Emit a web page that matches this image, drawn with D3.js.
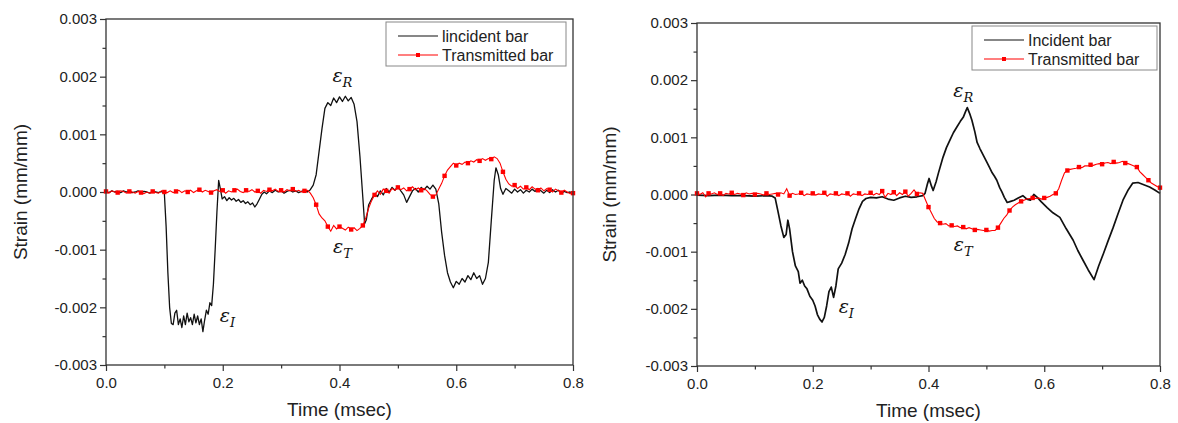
<!DOCTYPE html>
<html>
<head>
<meta charset="utf-8">
<script src="https://cdn.jsdelivr.net/npm/d3@7"></script>
<style>
  body { margin: 0; background: #fff; }
  svg { display: block; font-family: "Liberation Sans", Arial, sans-serif; }
  .tick text { fill: #222; }
  .eps { font-family: "DejaVu Serif", "Liberation Serif", serif; font-style: italic; fill: #111; }
</style>
</head>
<body>
<div id="chart"></div>
<script>
/* strain values are in 10^-3 mm/mm, time in msec */

var xTicks = [0.0, 0.2, 0.4, 0.6, 0.8]
var xMinor = [0.1, 0.3, 0.5, 0.7]
var yTicks = [-0.003, -0.002, -0.001, 0.000, 0.001, 0.002, 0.003]
var yMinor = [-0.0025, -0.0015, -0.0005, 0.0005, 0.0015, 0.0025]

var legendLeft = ["lincident bar", "Transmitted bar"]
var legendRight = ["Incident bar", "Transmitted bar"]

var leftIncident = [[0,0.01],[0.005,-0.01],[0.01,0.02],[0.015,0.0],[0.02,0.01],[0.025,-0.01],[0.03,0.02],[0.035,0.0],[0.04,0.01],[0.045,-0.01],[0.05,0.0],[0.055,0.02],[0.06,-0.01],[0.065,0.01],[0.07,0.0],[0.075,-0.02],[0.08,0.01],[0.085,0.0],[0.09,-0.01],[0.095,0.01],[0.1,-0.03],
  [0.103,-0.6],[0.106,-1.4],[0.109,-2.0],[0.112,-2.28],[0.115,-2.3],[0.118,-2.1],[0.121,-2.05],[0.124,-2.3],[0.127,-2.2],[0.130,-2.35],[0.133,-2.15],[0.136,-2.3],[0.139,-2.1],[0.142,-2.25],[0.145,-2.18],[0.148,-2.3],[0.151,-2.12],[0.154,-2.27],[0.157,-2.15],[0.160,-2.3],[0.163,-2.2],[0.166,-2.42],[0.169,-2.22],[0.172,-2.05],[0.175,-2.12],[0.178,-1.92],[0.181,-1.97],[0.184,-1.6],[0.187,-1.0],[0.190,-0.35],[0.193,0.2],[0.196,0.05],[0.199,-0.12],
  [0.203,-0.08],[0.207,-0.15],[0.211,-0.1],[0.215,-0.14],[0.219,-0.11],[0.223,-0.16],[0.227,-0.13],[0.231,-0.18],[0.235,-0.15],[0.239,-0.2],[0.243,-0.17],[0.247,-0.22],[0.251,-0.19],[0.255,-0.26],[0.259,-0.2],[0.263,-0.12],[0.267,-0.04],[0.271,0.0],[0.275,-0.03],[0.28,0.02],[0.285,-0.01],[0.29,0.03],[0.295,0.0],[0.3,0.02],[0.305,-0.02],[0.31,0.01],[0.315,0.03],[0.32,0.0],[0.325,0.02],[0.33,-0.01],[0.335,0.01],[0.34,0.03],[0.345,0.0],
  [0.35,0.04],[0.355,0.12],[0.36,0.3],[0.365,0.7],[0.37,1.1],[0.375,1.45],[0.38,1.55],[0.385,1.5],[0.39,1.63],[0.395,1.55],[0.4,1.65],[0.405,1.57],[0.41,1.66],[0.415,1.58],[0.42,1.64],[0.425,1.52],[0.43,1.22],[0.435,0.62],[0.44,-0.1],[0.443,-0.55],[0.446,-0.48],[0.45,-0.22],[0.455,-0.12],[0.46,-0.04],
  [0.465,-0.08],[0.47,0.02],[0.475,-0.05],[0.48,0.06],[0.485,0.0],[0.49,0.08],[0.495,0.03],[0.5,0.1],[0.505,0.02],[0.51,-0.05],[0.515,-0.18],[0.52,-0.08],[0.525,0.02],[0.53,0.06],[0.535,0.0],[0.54,0.08],[0.545,0.04],[0.55,0.1],[0.555,0.05],[0.56,0.12],[0.565,0.05],
  [0.57,-0.2],[0.575,-0.7],[0.58,-1.1],[0.585,-1.4],[0.59,-1.56],[0.595,-1.66],[0.6,-1.55],[0.605,-1.6],[0.61,-1.5],[0.615,-1.56],[0.62,-1.45],[0.625,-1.52],[0.63,-1.4],[0.635,-1.5],[0.64,-1.45],[0.645,-1.6],[0.65,-1.5],[0.655,-1.22],[0.66,-0.5],[0.665,0.2],[0.668,0.42],[0.672,0.3],[0.676,0.06],
  [0.68,-0.04],[0.685,0.06],[0.69,0.02],[0.695,-0.02],[0.7,0.05],[0.705,0.0],[0.71,0.04],[0.715,-0.02],[0.72,0.03],[0.725,0.0],[0.73,0.05],[0.735,0.01],[0.74,0.06],[0.745,0.02],[0.75,-0.02],[0.755,0.03],[0.76,-0.01],[0.765,0.04],[0.77,0.0],[0.775,0.03],[0.78,-0.02],[0.785,0.01],[0.79,-0.01],[0.795,0.0],[0.8,-0.02]]

var leftTransmitted = [[0,0.01],[0.005,-0.02],[0.01,0.02],[0.015,0.0],[0.02,-0.01],[0.025,0.02],[0.03,0.01],[0.035,-0.02],[0.04,0.01],[0.045,0.0],[0.05,-0.02],[0.055,0.01],[0.06,-0.01],[0.065,-0.03],[0.07,0.0],[0.075,-0.02],[0.08,0.01],[0.085,-0.01],[0.09,-0.02],[0.095,0.02],
  [0.1,0.0],[0.105,-0.01],[0.11,0.02],[0.115,-0.01],[0.12,0.01],[0.125,0.03],[0.13,-0.01],[0.135,0.02],[0.14,0.0],[0.145,0.03],[0.15,-0.01],[0.155,0.02],[0.16,0.04],[0.165,0.0],[0.17,0.03],[0.175,0.01],[0.18,-0.01],[0.185,0.02],[0.19,0.04],[0.195,0.01],
  [0.2,0.03],[0.205,-0.02],[0.21,0.02],[0.215,0.0],[0.22,0.03],[0.225,0.05],[0.23,0.01],[0.235,-0.01],[0.24,0.03],[0.245,0.01],[0.25,0.04],[0.255,0.0],[0.26,0.02],[0.265,-0.02],[0.27,0.03],[0.275,0.01],[0.28,0.04],[0.285,0.02],[0.29,0.05],[0.295,0.01],
  [0.3,0.03],[0.305,0.0],[0.31,0.04],[0.315,0.02],[0.32,0.05],[0.325,0.01],[0.33,0.03],[0.335,0.0],[0.34,0.02],[0.345,0.03],[0.35,-0.02],[0.355,-0.1],[0.36,-0.22],[0.365,-0.38],[0.37,-0.45],[0.375,-0.5],[0.38,-0.6],[0.385,-0.68],[0.39,-0.58],[0.395,-0.64],
  [0.4,-0.6],[0.405,-0.63],[0.41,-0.66],[0.415,-0.61],[0.42,-0.65],[0.425,-0.62],[0.43,-0.67],[0.435,-0.63],[0.44,-0.58],[0.445,-0.45],[0.45,-0.28],[0.455,-0.15],[0.46,-0.05],[0.465,0.02],[0.47,-0.04],[0.475,0.05],[0.48,0.02],[0.485,-0.02],[0.49,0.06],[0.495,0.03],
  [0.5,0.08],[0.505,0.04],[0.51,0.07],[0.515,0.02],[0.52,0.05],[0.525,0.09],[0.53,0.04],[0.535,0.07],[0.54,0.03],[0.545,0.06],[0.55,0.02],[0.555,-0.04],[0.56,-0.08],[0.565,-0.05],[0.57,0.05],[0.575,0.15],[0.58,0.28],[0.585,0.38],[0.59,0.44],[0.595,0.5],
  [0.6,0.46],[0.605,0.5],[0.61,0.48],[0.615,0.52],[0.62,0.5],[0.625,0.54],[0.63,0.52],[0.635,0.56],[0.64,0.54],[0.645,0.58],[0.65,0.55],[0.655,0.58],[0.66,0.57],[0.665,0.61],[0.67,0.58],[0.675,0.5],[0.68,0.35],[0.685,0.22],[0.69,0.14],[0.695,0.1],
  [0.7,0.12],[0.705,0.06],[0.71,0.1],[0.715,0.05],[0.72,0.08],[0.725,0.04],[0.73,0.09],[0.735,0.05],[0.74,0.03],[0.745,0.07],[0.75,0.02],[0.755,0.06],[0.76,0.04],[0.765,0.0],[0.77,0.05],[0.775,0.02],[0.78,-0.01],[0.785,0.03],[0.79,0.0],[0.795,-0.03],[0.8,-0.02]]

var rightIncident = [[0,-0.01],[0.02,-0.02],[0.04,-0.01],[0.06,-0.02],[0.08,-0.02],[0.1,-0.03],[0.12,-0.02],[0.13,-0.03],[0.135,-0.06],[0.14,-0.3],[0.145,-0.55],[0.15,-0.75],[0.154,-0.7],[0.157,-0.45],[0.16,-0.6],[0.165,-1.0],[0.17,-1.25],[0.175,-1.35],[0.178,-1.55],[0.182,-1.5],
  [0.186,-1.6],[0.19,-1.65],[0.195,-1.78],[0.2,-1.85],[0.204,-1.95],[0.208,-2.1],[0.212,-2.18],[0.216,-2.23],[0.22,-2.15],[0.224,-1.95],[0.228,-1.7],[0.232,-1.62],[0.236,-1.8],[0.24,-1.6],[0.244,-1.3],[0.25,-1.2],[0.256,-1.05],[0.262,-0.85],[0.268,-0.6],[0.274,-0.42],
  [0.28,-0.25],[0.286,-0.12],[0.292,-0.07],[0.3,-0.05],[0.31,-0.06],[0.32,-0.04],[0.33,-0.08],[0.34,-0.1],[0.35,-0.06],[0.36,-0.03],[0.37,-0.05],[0.38,-0.04],[0.39,-0.02],[0.394,0.02],[0.398,0.18],[0.401,0.28],[0.405,0.15],[0.408,0.07],[0.413,0.22],[0.417,0.37],
  [0.425,0.65],[0.431,0.82],[0.437,0.95],[0.443,1.08],[0.449,1.18],[0.455,1.28],[0.46,1.35],[0.464,1.45],[0.467,1.52],[0.471,1.42],[0.475,1.3],[0.48,1.1],[0.484,0.91],[0.489,0.8],[0.495,0.68],[0.501,0.56],[0.506,0.46],[0.51,0.38],[0.514,0.32],[0.518,0.25],
  [0.523,0.12],[0.527,0.04],[0.531,-0.05],[0.536,-0.14],[0.542,-0.12],[0.548,-0.1],[0.555,-0.06],[0.563,-0.02],[0.57,-0.08],[0.576,-0.1],[0.582,0.0],[0.588,-0.05],[0.595,-0.13],[0.605,-0.23],[0.615,-0.32],[0.627,-0.4],[0.638,-0.6],[0.65,-0.8],[0.658,-0.98],[0.667,-1.15],
  [0.676,-1.32],[0.686,-1.49],[0.694,-1.25],[0.702,-1.04],[0.71,-0.82],[0.719,-0.58],[0.727,-0.35],[0.736,-0.1],[0.745,0.08],[0.753,0.2],[0.762,0.21],[0.772,0.17],[0.782,0.13],[0.791,0.08],[0.8,0.02]]

var rightTransmitted = [[0,0.02],[0.005,0.0],[0.01,0.03],[0.015,-0.04],[0.02,0.02],[0.025,0.01],[0.03,0.03],[0.035,0.0],[0.04,0.02],[0.045,-0.02],[0.05,0.02],[0.055,0.01],[0.06,0.03],[0.065,0.0],[0.07,0.02],[0.075,0.01],[0.08,-0.01],[0.085,0.03],[0.09,0.01],[0.095,0.02],
  [0.1,0.0],[0.105,0.02],[0.11,0.01],[0.115,-0.01],[0.12,0.02],[0.125,0.0],[0.13,0.01],[0.135,0.02],[0.14,0.0],[0.145,0.03],[0.15,0.01],[0.155,0.1],[0.16,-0.02],[0.165,0.02],[0.17,0.0],[0.175,0.01],[0.18,0.03],[0.185,-0.02],[0.19,0.01],[0.195,0.0],
  [0.2,0.02],[0.205,-0.01],[0.21,0.01],[0.215,0.0],[0.22,0.03],[0.225,-0.03],[0.23,0.01],[0.235,0.0],[0.24,0.02],[0.245,-0.02],[0.25,0.01],[0.255,0.0],[0.26,0.02],[0.265,-0.03],[0.27,0.01],[0.275,0.0],[0.28,0.02],[0.285,-0.02],[0.29,0.01],[0.295,0.0],
  [0.3,0.03],[0.305,-0.01],[0.31,0.02],[0.315,0.0],[0.32,0.06],[0.325,-0.05],[0.33,0.02],[0.335,0.0],[0.34,0.04],[0.345,-0.02],[0.35,0.03],[0.355,0.0],[0.36,0.05],[0.365,-0.03],[0.37,0.02],[0.375,0.08],[0.38,0.01],[0.385,0.03],[0.39,0.02],[0.395,-0.1],
  [0.4,-0.22],[0.405,-0.32],[0.41,-0.42],[0.415,-0.48],[0.42,-0.5],[0.425,-0.52],[0.43,-0.51],[0.435,-0.55],[0.44,-0.54],[0.445,-0.56],[0.45,-0.55],[0.455,-0.58],[0.46,-0.57],[0.465,-0.6],[0.47,-0.58],[0.475,-0.6],[0.48,-0.62],[0.485,-0.61],[0.49,-0.62],[0.495,-0.63],
  [0.5,-0.62],[0.505,-0.64],[0.51,-0.63],[0.515,-0.63],[0.52,-0.58],[0.525,-0.5],[0.53,-0.42],[0.535,-0.36],[0.54,-0.28],[0.545,-0.22],[0.55,-0.18],[0.555,-0.15],[0.56,-0.12],[0.565,-0.1],[0.57,-0.08],[0.575,-0.07],[0.58,-0.06],[0.585,-0.07],[0.59,-0.06],[0.595,-0.08],
  [0.6,-0.06],[0.605,-0.05],[0.61,-0.03],[0.615,0.0],[0.62,0.02],[0.625,0.1],[0.63,0.25],[0.635,0.38],[0.64,0.42],[0.645,0.44],[0.65,0.45],[0.655,0.46],[0.66,0.48],[0.665,0.47],[0.67,0.5],[0.675,0.5],[0.68,0.52],[0.685,0.51],[0.69,0.53],[0.695,0.54],
  [0.7,0.53],[0.705,0.55],[0.71,0.56],[0.715,0.54],[0.72,0.57],[0.725,0.55],[0.73,0.56],[0.735,0.58],[0.74,0.55],[0.745,0.54],[0.75,0.52],[0.755,0.5],[0.76,0.48],[0.765,0.4],[0.77,0.35],[0.775,0.3],[0.78,0.25],[0.785,0.2],[0.79,0.17],[0.795,0.14],[0.8,0.12]]

/* annotation anchors: [time, strain x10^-3, subscript] */
var leftNotes = [[0.405, 1.9, "R"], [0.405, -1.05, "T"], [0.208, -2.25, "I"]]
var rightNotes = [[0.46, 1.7, "R"], [0.46, -0.98, "T"], [0.258, -2.08, "I"]]

var W = 1178, H = 423

var svg = d3.select("#chart").append("svg")
  .attr("width", W)
  .attr("height", H)

drawPanel({ left: 106, right: 573, top: 19, bottom: 365, incident: leftIncident, transmitted: leftTransmitted,
  incW: 1.3, legend: legendLeft, legX: 386, legW: 180, notes: leftNotes, ylabX: 20 })
drawPanel({ left: 697, right: 1160, top: 23, bottom: 366, incident: rightIncident, transmitted: rightTransmitted,
  incW: 1.7, legend: legendRight, legX: 972, legW: 185, notes: rightNotes, ylabX: 609 })

function drawPanel(p) {
  var g = svg.append("g")

  var x = d3.scaleLinear().domain([0, 0.8]).range([p.left, p.right])
  var y = d3.scaleLinear().domain([-0.003, 0.003]).range([p.bottom, p.top])

  /* axes, ticks outward on left and bottom */
  var xAxis = g.append("g")
    .attr("transform", "translate(0," + p.bottom + ")")
    .call(d3.axisBottom(x).tickValues(xTicks).tickFormat(function(d) { return d.toFixed(1) }).tickSize(6).tickPadding(6))
  xAxis.append("g").call(d3.axisBottom(x).tickValues(xMinor).tickFormat("").tickSize(3.5))
  var yAxis = g.append("g")
    .attr("transform", "translate(" + p.left + ",0)")
    .call(d3.axisLeft(y).tickValues(yTicks).tickFormat(function(d) { return d.toFixed(3) }).tickSize(6).tickPadding(3))
  yAxis.append("g").call(d3.axisLeft(y).tickValues(yMinor).tickFormat("").tickSize(3.5))
  g.selectAll(".domain").remove()
  g.selectAll(".tick line").attr("stroke", "#333").attr("stroke-width", 1.2)
  g.selectAll(".tick text").style("font-size", "15px")

  /* lines */
  var line = d3.line()
    .x(function(d) { return x(d[0]) })
    .y(function(d) { return y(d[1] / 1000) })

  g.append("path")
    .attr("d", line(p.incident))
    .attr("fill", "none")
    .attr("stroke", "#111")
    .attr("stroke-width", p.incW)
    .attr("stroke-linejoin", "round")

  g.append("path")
    .attr("d", line(p.transmitted))
    .attr("fill", "none")
    .attr("stroke", "#ff0000")
    .attr("stroke-width", 1.1)

  /* square markers every 0.02 msec (every 4th sample) */
  g.selectAll(".mk")
    .data(p.transmitted.filter(function(d, i) { return i % 4 === 0 }))
    .enter().append("rect")
    .attr("x", function(d) { return x(d[0]) - 2.2 })
    .attr("y", function(d) { return y(d[1] / 1000) - 2.2 })
    .attr("width", 4.4)
    .attr("height", 4.4)
    .attr("fill", "#ff0000")

  /* frame */
  g.append("rect")
    .attr("x", p.left)
    .attr("y", p.top)
    .attr("width", p.right - p.left)
    .attr("height", p.bottom - p.top)
    .attr("fill", "none")
    .attr("stroke", "#333")
    .attr("stroke-width", 1.3)

  /* axis titles */
  g.append("text")
    .attr("x", (p.left + p.right) / 2)
    .attr("y", p.bottom + 51)
    .attr("text-anchor", "middle")
    .style("font-size", "19px")
    .attr("fill", "#222")
    .text("Time (msec)")
  g.append("text")
    .attr("transform", "translate(" + p.ylabX + "," + y(0) + ") rotate(-90)")
    .attr("dy", "0.35em")
    .attr("text-anchor", "middle")
    .style("font-size", "19px")
    .attr("fill", "#222")
    .text("Strain (mm/mm)")

  /* legend */
  var lg = g.append("g").attr("transform", "translate(" + p.legX + "," + (p.top + 3) + ")")
  lg.append("rect")
    .attr("width", p.legW)
    .attr("height", 44)
    .attr("fill", "#fff")
    .attr("stroke", "#888")
    .attr("stroke-width", 1)
  p.legend.forEach(function(name, i) {
    var ly = 14 + i * 19
    lg.append("line")
      .attr("x1", 12).attr("x2", 52)
      .attr("y1", ly).attr("y2", ly)
      .attr("stroke", i === 0 ? "#111" : "#ff0000")
      .attr("stroke-width", 1.2)
    if (i === 1) {
      lg.append("rect")
        .attr("x", 30).attr("y", ly - 2)
        .attr("width", 4).attr("height", 4)
        .attr("fill", "#ff0000")
    }
    lg.append("text")
      .attr("x", 56)
      .attr("y", ly)
      .attr("dy", "0.35em")
      .style("font-size", "16px")
      .attr("fill", "#222")
      .text(name)
  })

  /* epsilon labels */
  p.notes.forEach(function(n) {
    var t = g.append("text")
      .attr("class", "eps")
      .attr("x", x(n[0]))
      .attr("y", y(n[1] / 1000))
      .attr("text-anchor", "middle")
      .style("font-size", "19px")
    t.append("tspan").text("ε")
    t.append("tspan").attr("dy", 5).style("font-size", "13px").text(n[2])
  })
}
</script>
</body>
</html>
